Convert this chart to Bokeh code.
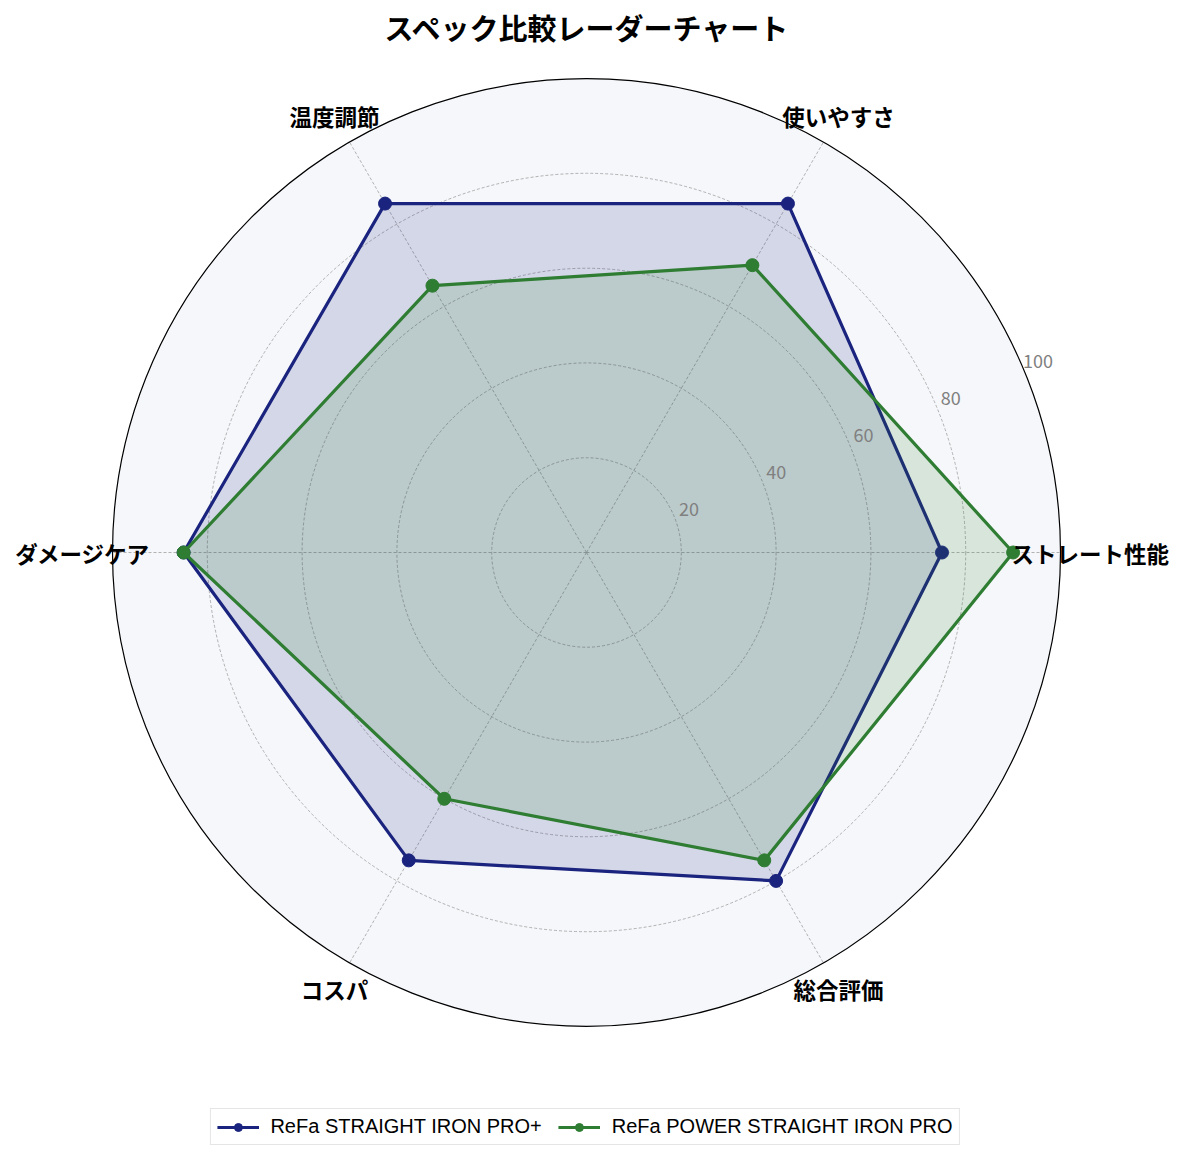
import numpy as np
from bokeh.plotting import figure
from bokeh.models import Range1d, Legend, LegendItem
from bokeh.core.properties import value
from bokeh.embed import file_html
from bokeh.resources import INLINE

# ---- data ----
title_text = "スペック比較レーダーチャート"
categories = ["ストレート性能", "使いやすさ", "温度調節", "ダメージケア", "コスパ", "総合評価"]
series_names = ["ReFa STRAIGHT IRON PRO+", "ReFa POWER STRAIGHT IRON PRO"]
pro_plus = [75, 85, 85, 85, 75, 80]
power_pro = [90, 70, 65, 85, 60, 75]
ring_ticks = [20, 40, 60, 80, 100]
tick_labels = ["20", "40", "60", "80", "100"]

# ---- style ----
JP = "Noto Sans CJK JP"
navy = "#1a237e"
green = "#2e7d32"
bg = "#f5f7fa"
grid_col = "#a0a0a0"

W, H = 1169, 1145
S = 4.74  # px per unit
cx, cy = 586, 552  # center in canvas px (from top-left)

p = figure(width=W, height=H, output_backend="svg", toolbar_location=None,
           x_range=Range1d(-cx / S, (W - cx) / S),
           y_range=Range1d(-(H - cy) / S, cy / S),
           min_border=0, background_fill_color="white", border_fill_color="white")
p.axis.visible = False
p.grid.visible = False
p.outline_line_color = None

n = len(categories)
angles = np.arange(n) * 2 * np.pi / n
rmax = ring_ticks[-1]

# background disk
p.circle(x=0, y=0, radius=rmax, fill_color=bg, line_color=None)

# grid rings
for r in ring_ticks[:-1]:
    p.circle(x=0, y=0, radius=r, fill_color=None, line_color=grid_col,
             line_width=0.8, line_dash="3 2")
# spokes
p.multi_line(xs=[[0, rmax * np.cos(a)] for a in angles],
             ys=[[0, rmax * np.sin(a)] for a in angles],
             line_color=grid_col, line_width=0.8, line_dash="3 2")

def poly(vals):
    v = np.array(vals + vals[:1], dtype=float)
    a = np.concatenate([angles, angles[:1]])
    return v * np.cos(a), v * np.sin(a)

renderers = []
for vals, col in [(pro_plus, navy), (power_pro, green)]:
    xs, ys = poly(vals)
    p.patch(xs, ys, fill_color=col, fill_alpha=0.15, line_color=None)
    ln = p.line(xs, ys, line_color=col, line_width=3.2)
    sc = p.scatter(xs[:-1], ys[:-1], size=13, marker="circle", fill_color=col, line_color=col)
    renderers.append((ln, sc))

# outer circle
p.circle(x=0, y=0, radius=rmax, fill_color=None, line_color="black", line_width=1.2)

# radial tick labels
ta = np.deg2rad(23)
p.text(x=[(r + 3.5) * np.cos(ta) for r in ring_ticks],
       y=[(r + 3.5) * np.sin(ta) for r in ring_ticks],
       text=tick_labels, text_font=value(JP), text_font_size="18px",
       text_color="#808080", text_align="center", text_baseline="middle")

# category labels
lr = 106.3
p.text(x=list(lr * np.cos(angles)), y=list(lr * np.sin(angles)), text=categories,
       text_font=value(JP), text_font_style="bold", text_font_size="22.5px",
       text_color="black", text_align="center", text_baseline="middle")

# title
p.text(x=[0.2], y=[110.8], text=[title_text], text_font=value(JP), text_font_style="bold",
       text_font_size="29px", text_color="black", text_align="center", text_baseline="middle")

legend = Legend(items=[LegendItem(label=series_names[i], renderers=list(renderers[i]))
                       for i in range(2)],
                orientation="horizontal", location="bottom_center", margin=0,
                label_text_font="Liberation Sans", label_text_font_size="20px",
                label_text_color="black",
                glyph_width=42, glyph_height=20, spacing=16, padding=6,
                label_standoff=12, border_line_color="#cccccc", border_line_width=1.5,
                background_fill_color="white", background_fill_alpha=0.9)
p.add_layout(legend)

open("out.html", "w").write(file_html(p, INLINE))
